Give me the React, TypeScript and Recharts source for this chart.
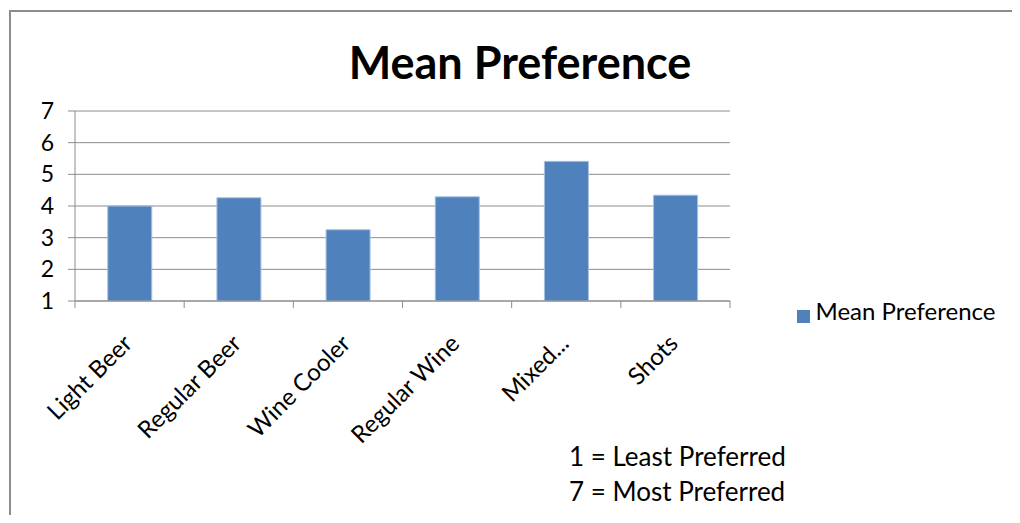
import React from 'react';
import { BarChart, Bar, XAxis, YAxis, CartesianGrid, Legend } from 'recharts';

const categories = ['Light Beer', 'Regular Beer', 'Wine Cooler', 'Regular Wine', 'Mixed...', 'Shots'];
const meanPreference = [4.0, 4.26, 3.25, 4.29, 5.41, 4.34];
const yTicks = [1, 2, 3, 4, 5, 6, 7];
const seriesName = 'Mean Preference';
const titleText = 'Mean Preference';
const notes = ['1 = Least Preferred', '7 = Most Preferred'];

const data = categories.map((name, i) => ({ name, value: meanPreference[i] }));

const W = 1012;
const H = 507;
const PLOT_LEFT = 67;
const PLOT_RIGHT = 722;
const PLOT_TOP = 103;
const PLOT_BOTTOM = 293;
const Y_AXIS_W = 40;
const X_AXIS_H = 120;
const BAND = (PLOT_RIGHT - PLOT_LEFT) / categories.length;
const FONT = 'Lato, "Open Sans", sans-serif';
const GRID = '#8c8c8c';

const XTick = (props: any) => {
  const { x, y, payload, index } = props;
  const bx = x - BAND / 2;
  const ax = x + 4;
  const ay = y + 44;
  return (
    <g>
      <line x1={bx} y1={y} x2={bx} y2={y + 7} stroke={GRID} strokeWidth={1} />
      {index === categories.length - 1 && (
        <line x1={x + BAND / 2} y1={y} x2={x + BAND / 2} y2={y + 7} stroke={GRID} strokeWidth={1} />
      )}
      <text
        x={ax}
        y={ay}
        transform={`rotate(-45, ${ax}, ${ay})`}
        textAnchor="end"
        fontSize={24}
        fontFamily={FONT}
        fill="#000"
      >
        {payload.value}
      </text>
    </g>
  );
};

export default function App() {
  return (
    <div style={{ position: 'relative', width: W, height: H, background: '#fff', overflow: 'hidden' }}>
      <div
        style={{
          position: 'absolute',
          left: 1,
          top: 2,
          width: W + 20,
          height: H + 20,
          borderLeft: `2px solid ${GRID}`,
          borderTop: `2px solid ${GRID}`,
          boxSizing: 'border-box',
        }}
      />
      <div style={{ position: 'absolute', left: 0, top: 0 }}>
        <BarChart
          width={W}
          height={H}
          data={data}
          margin={{
            top: PLOT_TOP,
            left: PLOT_LEFT - Y_AXIS_W,
            right: W - PLOT_RIGHT,
            bottom: H - PLOT_BOTTOM - X_AXIS_H,
          }}
          barCategoryGap="30%"
        >
          <CartesianGrid vertical={false} stroke={GRID} strokeWidth={1} />
          <XAxis
            dataKey="name"
            interval={0}
            height={X_AXIS_H}
            axisLine={{ stroke: GRID, strokeWidth: 1 }}
            tickLine={false}
            tickSize={0}
            tickMargin={0}
            tick={<XTick />}
          />
          <YAxis
            domain={[1, 7]}
            ticks={yTicks}
            width={Y_AXIS_W}
            axisLine={{ stroke: GRID, strokeWidth: 1 }}
            tickLine={{ stroke: GRID, strokeWidth: 1 }}
            tickSize={7}
            tickMargin={14}
            tick={{ fill: '#000', fontSize: 23, fontFamily: FONT }}
          />
          <Legend
            layout="horizontal"
            verticalAlign="middle"
            align="center"
            iconType="square"
            iconSize={13}
            formatter={(v: any) => (
              <span style={{ color: '#000', fontSize: 24, fontFamily: FONT, marginLeft: 2 }}>{v}</span>
            )}
            wrapperStyle={{ left: 778, top: 288, width: 230, textAlign: 'left' }}
          />
          <Bar
            dataKey="value"
            name={seriesName}
            fill="#4F81BD"
            stroke="#a7bfdf"
            strokeWidth={1}
            isAnimationActive={false}
          />
        </BarChart>
      </div>
      <svg
        width={W}
        height={H}
        style={{ position: 'absolute', left: 0, top: 0, pointerEvents: 'none' }}
      >
        <text x={512} y={71} textAnchor="middle" fontSize={45} fontWeight="bold" fontFamily={FONT} fill="#000">
          {titleText}
        </text>
        <text x={561} y={458} fontSize={26} fontFamily={FONT} fill="#000">
          {notes[0]}
        </text>
        <text x={561} y={493} fontSize={26} fontFamily={FONT} fill="#000">
          {notes[1]}
        </text>
      </svg>
    </div>
  );
}
